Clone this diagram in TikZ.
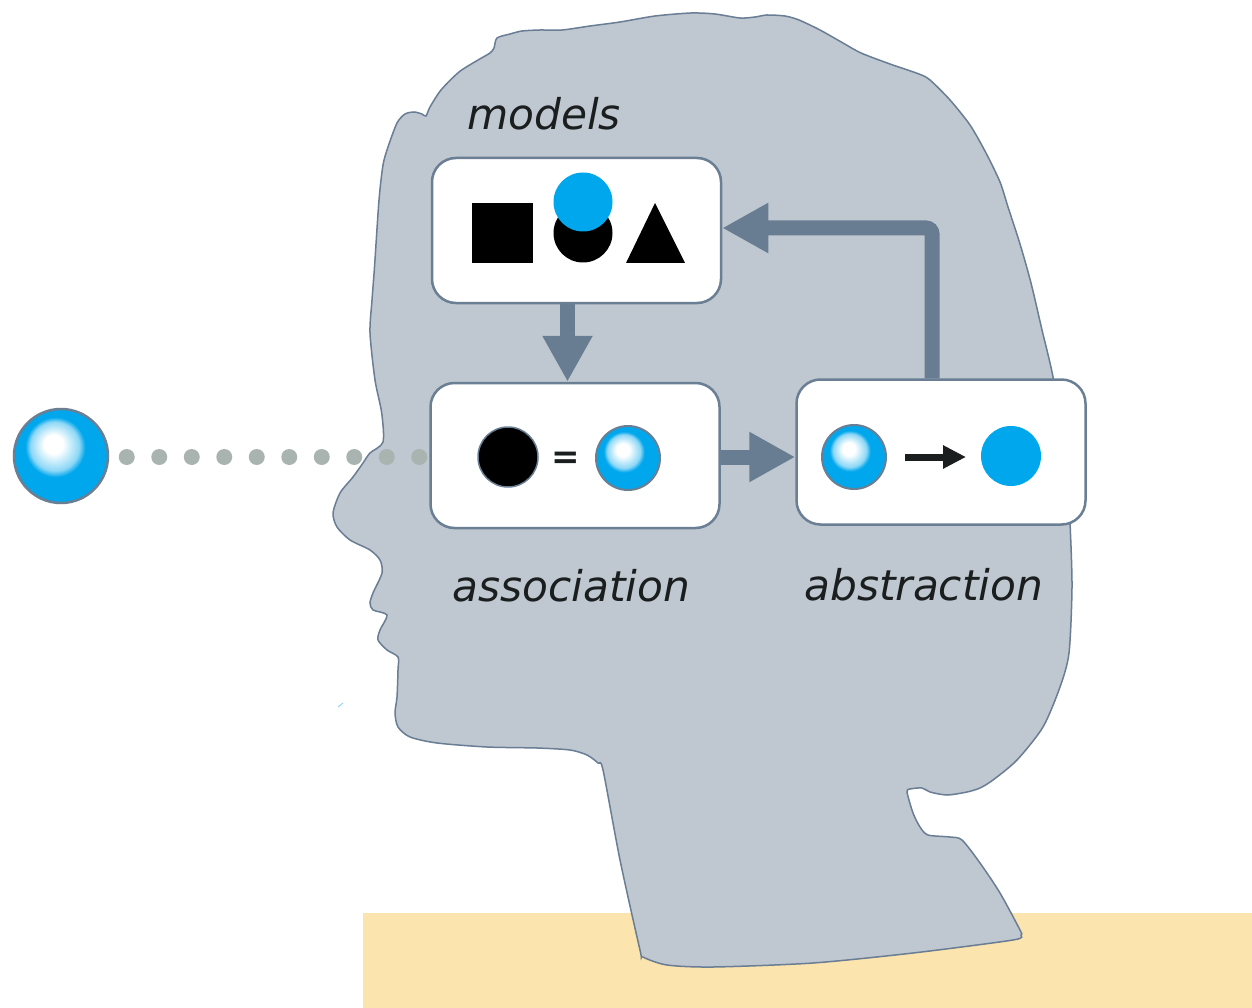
\documentclass[tikz,border=0pt]{standalone}
\usepackage{fontspec}
\setmainfont{DejaVu Sans}
\usetikzlibrary{positioning,arrows.meta}

\definecolor{headfill}{RGB}{191,199,208}
\definecolor{headline}{RGB}{105,125,148}
\definecolor{boxslate}{RGB}{106,126,148}
\definecolor{arrowslate}{RGB}{104,124,146}
\definecolor{glossblue}{RGB}{0,167,236}
\definecolor{dotgray}{RGB}{169,180,177}
\definecolor{floor}{RGB}{252,228,174}
\definecolor{inkdark}{RGB}{26,30,30}

\pgfdeclareradialshading{glossy}{\pgfpoint{-4.5bp}{7bp}}{%
  color(0bp)=(white); color(5bp)=(white); color(13bp)=(glossblue!45!white);
  color(16bp)=(glossblue); color(25bp)=(glossblue); color(50bp)=(glossblue)}

\tikzset{
  panel/.style={draw=boxslate, line width=2.5pt, fill=white, rounded corners=24pt,
    minimum width=289pt, minimum height=145pt},
  glossball/.style={circle, draw=boxslate, line width=2pt, shading=glossy, inner sep=0pt},
  bigarrow/.style={draw=arrowslate, line width=15pt, -{Triangle[length=46pt,width=47pt]}},
  caption/.style={anchor=base west, inner sep=0pt, text=inkdark,
    font=\fontsize{42.3}{50}\selectfont\itshape},
}

\begin{document}
\begin{tikzpicture}[x=1pt,y=-1pt]
\useasboundingbox (0,0) rectangle (1252,1008);

% Boden
\fill[floor] (363,913) rectangle (1252,1008);

% Kopf
\draw[headline, fill=headfill, line width=1.5pt] plot[smooth cycle, tension=0.45] coordinates {
(370,333) (372,300) (374.5,267) (379,200) (383,165) (388,147) (397,123)
(405,114) (414,112) (422,114) (426,116) (430,107) (441,90) (459,72)
(478,60) (490,53) (494,48) (497,38) (510,34) (522,31) (540,30) (562,30)
(590,26) (620,22) (655,16) (691,13) (715,14) (740,18) (755,17) (767,15)
(785,16) (799,20) (820,30) (843,43) (861,53) (890,64) (919,74) (930,80)
(950,100) (970,125) (986,153) (1000,182) (1008,207) (1020,244) (1031,283)
(1042,330) (1053,377) (1060,430) (1067,480) (1070,523) (1072,587)
(1069,653) (1060,687) (1043,727) (1017,760) (993,780) (980,788) (967,792)
(947,795) (930,792) (922,788) (910,789) (907,792) (913,813) (920,827)
(928,835) (950,837) (962,840) (980,863) (1000,893) (1020,930) (1021,935)
(1013,940) (913,953) (813,963) (713,967) (667,965) (643,957) (640,950)
(620,860) (603,770) (598,763) (587,755) (570,750) (537,748) (487,747)
(437,743) (410,737) (398,727) (395,713) (397,697) (398,670) (398,657)
(387,650) (378,640) (380,630) (387,615) (373,610) (370,603) (373,593)
(382,573) (380,560) (370,550) (350,540) (337,527) (333,513) (340,493)
(353,477) (363,463) (370,453) (383,442) (381.7,413) (375,380)
};
\draw[glossblue!50, line width=0.8pt] (338,707) -- (343,703);

% Kaesten
\node[panel] (models) at (576.5,230.5) {};
\node[panel] (assoc) at (575,455.5) {};
\node[panel] (abstr) at (941,452) {};

% Beschriftungen
\node[caption] (modelslabel) at (467,130) {models};
\node[caption] (assoclabel) at (452,601) {association};
\node[caption] (abstrlabel) at (804,600) {abstraction};

% Modelle
\fill (472,203) rectangle (533,263);
\fill (583,233) circle (29.5);
\fill[glossblue] (583,202) circle (29.5);
\fill (626,263) -- (655,203) -- (685,263) -- cycle;

% Assoziation
\node[circle, fill=black, draw=boxslate, line width=1.5pt, minimum size=60pt] (blackball) at (508,457) {};
\node[text=inkdark, font=\fontsize{34}{38}\selectfont\bfseries] (equal) at (566,460) {=};
\node[glossball, minimum size=64pt] (assocball) at (628,458) {};

% Abstraktion
\node[glossball, minimum size=64pt] (abstrball) at (854,457) {};
\node[circle, fill=glossblue, minimum size=60pt] (flatball) at (1011,456) {};
\draw[inkdark, line width=7pt, -{Triangle[length=23pt,width=22pt]}] (905,457) -- (966,457);

% Auge und Punkte
\node[glossball, minimum size=94pt, line width=2.5pt] (eye) at (61,456) {};
\draw[dotgray, line width=16pt, line cap=round, dash pattern=on 0pt off 32.5pt,
  shorten <=17.5pt] (eye.east |- 0,457) -- (assoc.west |- 0,457);

% Pfeile
\draw[bigarrow] ([xshift=-9pt]models.south) -- ([xshift=-9pt]models.south |- assoc.north);
\draw[bigarrow] (assoc.east |- 0,457) -- (abstr.west |- 0,457);
\draw[bigarrow, rounded corners=6pt] ([xshift=-9pt]abstr.north) |- (models.east |- 0,228);

\end{tikzpicture}
\end{document}
